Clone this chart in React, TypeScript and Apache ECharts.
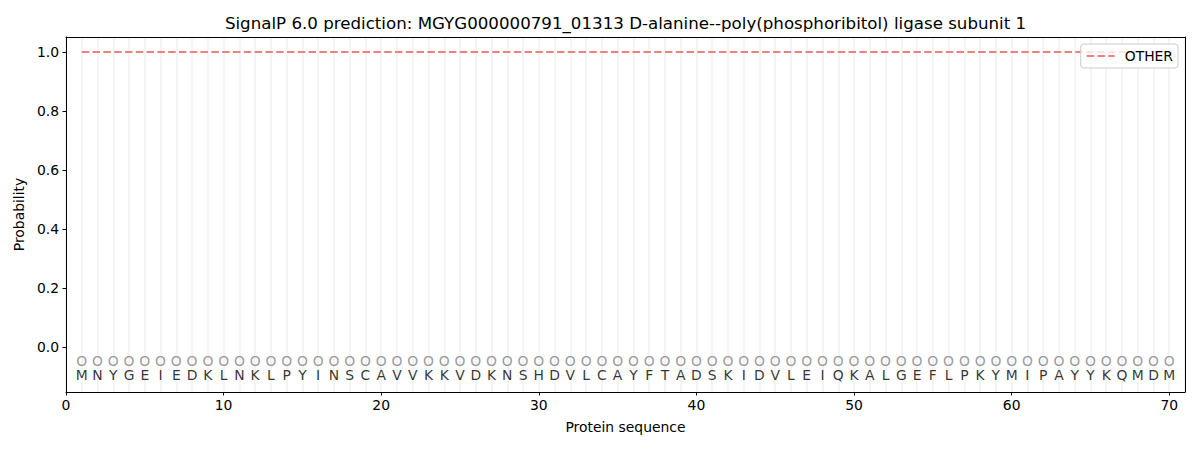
import React, { useEffect, useRef } from "react";
import * as echarts from "echarts";

const sequence = [
  "M","N","Y","G","E","I","E","D","K","L","N","K","L","P","Y","I","N","S","C","A",
  "V","V","K","K","V","D","K","N","S","H","D","V","L","C","A","Y","F","T","A","D",
  "S","K","I","D","V","L","E","I","Q","K","A","L","G","E","F","L","P","K","Y","M",
  "I","P","A","Y","Y","K","Q","M","D","M",
];
const otherProb = [
  1.0,1.0,1.0,1.0,1.0,1.0,1.0,1.0,1.0,1.0,1.0,1.0,1.0,1.0,1.0,1.0,1.0,1.0,1.0,1.0,
  1.0,1.0,1.0,1.0,1.0,1.0,1.0,1.0,1.0,1.0,1.0,1.0,1.0,1.0,1.0,1.0,1.0,1.0,1.0,1.0,
  1.0,1.0,1.0,1.0,1.0,1.0,1.0,1.0,1.0,1.0,1.0,1.0,1.0,1.0,1.0,1.0,1.0,1.0,1.0,1.0,
  1.0,1.0,1.0,1.0,1.0,1.0,1.0,1.0,1.0,1.0,
];
const yTicks = [0.0, 0.2, 0.4, 0.6, 0.8, 1.0];
const xTicks = [0, 10, 20, 30, 40, 50, 60, 70];
const markerY = -0.047;
const letterY = -0.097;
const titleText =
  "SignalP 6.0 prediction: MGYG000000791_01313 D-alanine--poly(phosphoribitol) ligase subunit 1";

const FONT = "DejaVu Sans";
const FS = 13.9;

export default function App() {
  const ref = useRef<HTMLDivElement>(null);
  useEffect(() => {
    if (!ref.current) return;
    const chart = echarts.init(ref.current, null, { renderer: "svg" });
    const positions = sequence.map((_, i) => i + 1);
    chart.setOption({
      animation: false,
      backgroundColor: "#ffffff",
      textStyle: { fontFamily: FONT },
      graphic: [
        {
          type: "text",
          x: 625.5,
          y: 23,
          style: {
            text: titleText,
            fontFamily: FONT,
            fontSize: 16.67,
            fill: "#000",
            textAlign: "center",
            textVerticalAlign: "middle",
          },
        },
      ],
      legend: {
        right: 22,
        top: 44,
        data: ["OTHER"],
        itemWidth: 28,
        itemHeight: 10,
        padding: [5, 5, 5, 5],
        borderColor: "#cccccc",
        borderWidth: 1,
        borderRadius: 3,
        backgroundColor: "rgba(255,255,255,0.8)",
        itemStyle: { opacity: 0 },
        textStyle: { fontFamily: FONT, fontSize: FS, color: "#000", padding: [0, 0, 0, 5] },
      },
      grid: {
        left: 66,
        right: 15,
        top: 37,
        bottom: 58,
        show: false,
      },
      xAxis: [
        {
          type: "value",
          min: 0,
          max: 71,
          name: "Protein sequence",
          nameLocation: "middle",
          nameGap: 28,
          nameTextStyle: { fontFamily: FONT, fontSize: FS, color: "#000" },
          axisLine: { show: true, onZero: false, lineStyle: { color: "#000", width: 1 } },
          axisTick: { show: true, length: 3.5, customValues: xTicks, lineStyle: { color: "#000" } },
          axisLabel: {
            customValues: xTicks,
            margin: 6,
            fontFamily: FONT,
            fontSize: FS,
            color: "#000",
          },
          splitLine: { show: false },
          z: 5,
        },
        {
          type: "value",
          min: 0,
          max: 71,
          interval: 1,
          position: "top",
          axisLine: { show: true, onZero: false, lineStyle: { color: "#000", width: 1 } },
          axisTick: { show: false },
          axisLabel: { show: false },
          splitLine: { show: true, lineStyle: { color: "#f3f3f3", width: 1.8 } },
          z: 0,
        },
      ],
      yAxis: [
        {
          type: "value",
          min: -0.153,
          max: 1.051,
          name: "Probability",
          nameLocation: "middle",
          nameGap: 36,
          nameTextStyle: { fontFamily: FONT, fontSize: FS, color: "#000" },
          axisLine: { show: true, onZero: false, lineStyle: { color: "#000", width: 1 } },
          axisTick: { show: true, length: 3.5, customValues: yTicks, lineStyle: { color: "#000" } },
          axisLabel: {
            customValues: yTicks,
            margin: 7,
            fontFamily: FONT,
            fontSize: FS,
            color: "#000",
            formatter: (v: number) => v.toFixed(1),
          },
          splitLine: { show: false },
          z: 5,
        },
        {
          type: "value",
          min: -0.153,
          max: 1.051,
          position: "right",
          axisLine: { show: true, onZero: false, lineStyle: { color: "#000", width: 1 } },
          axisTick: { show: false },
          axisLabel: { show: false },
          splitLine: { show: false },
          z: 5,
        },
      ],
      series: [
        {
          name: "OTHER",
          type: "line",
          xAxisIndex: 0,
          yAxisIndex: 0,
          data: positions.map((p, i) => [p, otherProb[i]]),
          symbol: "none",
          color: "#f08080",
          lineStyle: { color: "#f08080", width: 2, type: [7.5, 3.3] },
          z: 3,
        },
        {
          name: "markers",
          type: "scatter",
          xAxisIndex: 0,
          yAxisIndex: 0,
          symbolSize: 0,
          itemStyle: { color: "#808080" },
          data: positions.map((p) => [p, markerY]),
          label: {
            show: true,
            position: "inside",
            formatter: "O",
            fontFamily: FONT,
            fontSize: FS,
            color: "#808080",
            textBorderWidth: 0,
            textBorderColor: "transparent",
          },
          silent: true,
          z: 4,
        },
        {
          name: "letters",
          type: "scatter",
          xAxisIndex: 0,
          yAxisIndex: 0,
          symbolSize: 0,
          itemStyle: { color: "#000000" },
          data: positions.map((p, i) => ({ value: [p, letterY], name: sequence[i] })),
          label: {
            show: true,
            position: "inside",
            formatter: (params: any) => params.name,
            fontFamily: FONT,
            fontSize: FS,
            color: "#000",
            textBorderWidth: 0,
            textBorderColor: "transparent",
          },
          silent: true,
          z: 4,
        },
      ],
    });
    return () => chart.dispose();
  }, []);
  return (
    <div
      ref={ref}
      style={{ position: "fixed", left: 0, top: 0, width: 1200, height: 450 }}
    />
  );
}
